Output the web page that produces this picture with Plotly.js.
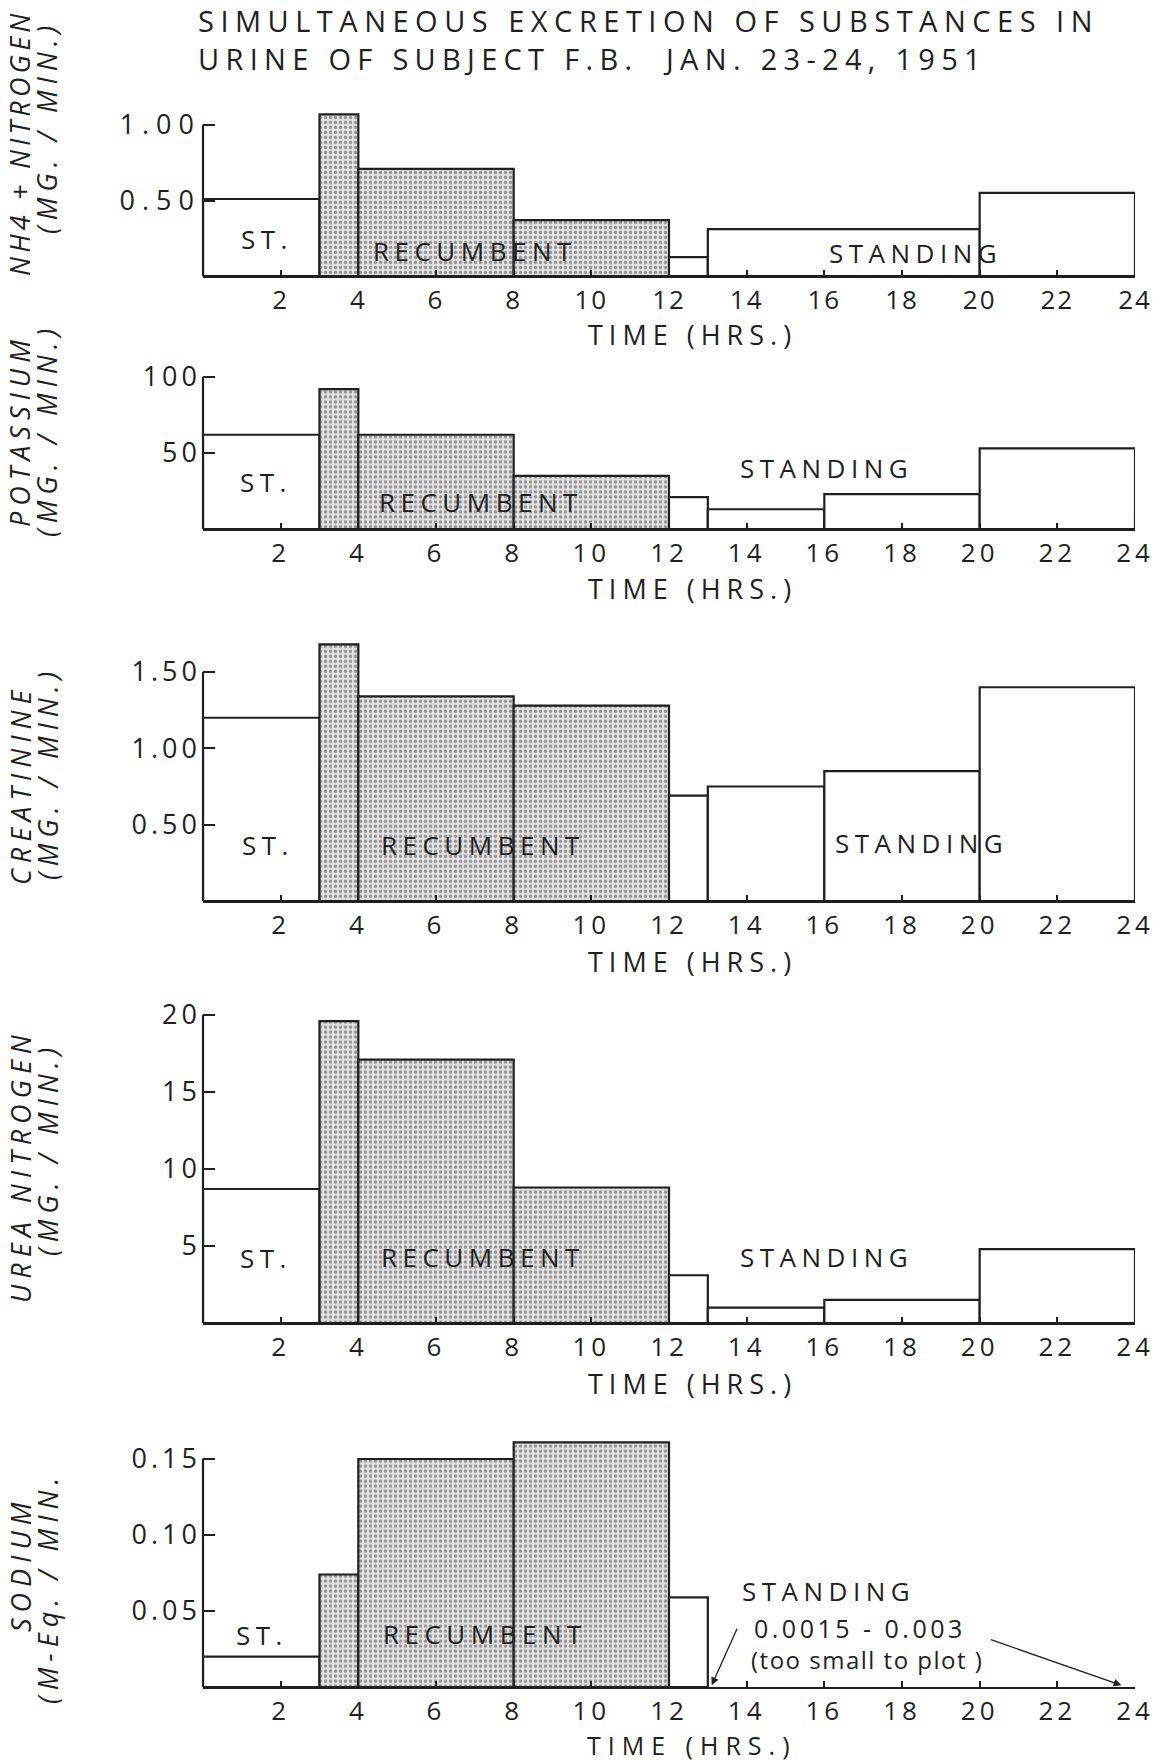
<!DOCTYPE html>
<html><head><meta charset="utf-8">
<script src="https://cdn.plot.ly/plotly-3.0.1.min.js"></script>
<style>
html,body{margin:0;padding:0;background:#fff;}
svg text{letter-spacing:4px;}
g.ytick text{letter-spacing:7px;}
g.xtick text{letter-spacing:2px;}
</style></head>
<body><div id="chart" style="width:1159px;height:1762px;"></div>
<script>
// ---------- data ----------
const intervalStart = [0, 3, 4, 8, 12, 13, 16, 20];
const intervalEnd   = [3, 4, 8, 12, 13, 16, 20, 24];
const nitrogenStart = [0, 3, 4, 8, 12, 13, 20];
const nitrogenEnd   = [3, 4, 8, 12, 13, 20, 24];
const sodiumStart   = [0, 3, 4, 8, 12];
const sodiumEnd     = [3, 4, 8, 12, 13];

const nitrogen     = [0.51, 1.07, 0.71, 0.37, 0.125, 0.31, 0.55];
const potassium    = [62, 92, 62, 35, 21, 13, 23, 53];
const creatinine   = [1.20, 1.68, 1.34, 1.28, 0.69, 0.75, 0.85, 1.40];
const ureaNitrogen = [8.7, 19.6, 17.1, 8.8, 3.1, 1.0, 1.5, 4.8];
const sodium       = [0.020, 0.074, 0.150, 0.161, 0.059];

const recumbentFrom = 3, recumbentTo = 12;

const xTickVals = [2, 4, 6, 8, 10, 12, 14, 16, 18, 20, 22, 24];
const xTickText = ['2', '4', '6', '8', '10', '12', '14', '16', '18', '20', '22', '24'];

const nitrogenTicks = [0.5, 1.0];          const nitrogenTickText = ['0.50', '1.00'];
const potassiumTicks = [50, 100];          const potassiumTickText = ['50', '100'];
const creatinineTicks = [0.5, 1.0, 1.5];   const creatinineTickText = ['0.50', '1.00', '1.50'];
const ureaTicks = [5, 10, 15, 20];         const ureaTickText = ['5', '10', '15', '20'];
const sodiumTicks = [0.05, 0.10, 0.15];    const sodiumTickText = ['0.05', '0.10', '0.15'];

const titleLine1 = 'SIMULTANEOUS EXCRETION OF SUBSTANCES IN';
const titleLine2 = 'URINE OF SUBJECT F.B.\u00a0 JAN. 23-24, 1951';
const xTitle = 'TIME (HRS.)';
const sodiumNote1 = '0.0015 - 0.003';
const sodiumNote2 = '(too small to plot )';

// ---------- layout helpers ----------
const W = 1159, H = 1762;
const INK = '#1f1f1f';
const FONT = 'Open Sans, DejaVu Sans, sans-serif';
const xLeftPx = 203, xRightPx = 1135;
const pyf = p => 1 - p / H;
const ls = (t, px) => '<span style="letter-spacing:' + px + 'px">' + t + '</span>';

const panels = [
  {starts: nitrogenStart, ends: nitrogenEnd, vals: nitrogen, tv: nitrogenTicks, tt: nitrogenTickText,
   zeroPx: 276, ppu: 151, top: 1.1, xtY: 335, xtSize: 27,
   yt1: 'NH4 + NITROGEN', yt1y: 143, yt1s: 4.2, yt2: '(MG. / MIN.)', yt2y: 127,
   labels: [['ST.', 1.65, 0.245], ['RECUMBENT', 7.0, 0.165], ['STANDING', 18.35, 0.152]]},
  {starts: intervalStart, ends: intervalEnd, vals: potassium, tv: potassiumTicks, tt: potassiumTickText,
   zeroPx: 529, ppu: 1.52, top: 105, xtY: 589, xtSize: 27,
   yt1: 'POTASSIUM', yt1y: 431, yt1s: 6, yt2: '(MG. / MIN.)', yt2y: 430,
   labels: [['ST.', 1.62, 31], ['RECUMBENT', 7.15, 17.5], ['STANDING', 16.05, 40]]},
  {starts: intervalStart, ends: intervalEnd, vals: creatinine, tv: creatinineTicks, tt: creatinineTickText,
   zeroPx: 901, ppu: 152.7, top: 1.75, xtY: 961, xtSize: 27,
   yt1: 'CREATININE', yt1y: 785, yt1s: 6, yt2: '(MG. / MIN.)', yt2y: 773,
   labels: [['ST.', 1.67, 0.37], ['RECUMBENT', 7.2, 0.37], ['STANDING', 18.5, 0.38]]},
  {starts: intervalStart, ends: intervalEnd, vals: ureaNitrogen, tv: ureaTicks, tt: ureaTickText,
   zeroPx: 1323, ppu: 15.4, top: 21, xtY: 1383, xtSize: 27,
   yt1: 'UREA NITROGEN', yt1y: 1166, yt1s: 6, yt2: '(MG. / MIN.)', yt2y: 1149,
   labels: [['ST.', 1.62, 4.2], ['RECUMBENT', 7.22, 4.3], ['STANDING', 16.05, 4.3]]},
  {starts: sodiumStart, ends: sodiumEnd, vals: sodium, tv: sodiumTicks, tt: sodiumTickText,
   zeroPx: 1687, ppu: 1520, top: 0.17, xtY: 1745, xtSize: 25,
   yt1: 'SODIUM', yt1y: 1565, yt1s: 6, yt2: '(M-Eq. / MIN.', yt2y: 1588,
   labels: [['ST.', 1.52, 0.034], ['RECUMBENT', 7.27, 0.035], ['STANDING', 16.1, 0.063]]}
];

const data = [];
const layout = {
  width: W, height: H,
  margin: {l: 0, r: 0, t: 0, b: 0},
  paper_bgcolor: '#ffffff', plot_bgcolor: '#ffffff',
  showlegend: false,
  font: {family: FONT, color: INK},
  title: {text: ls(titleLine1, 6.5) + '<br>' + ls(titleLine2, 6.3),
          x: 198 / W, xanchor: 'left', xref: 'paper',
          y: pyf(32), yanchor: 'middle', yref: 'container',
          font: {family: FONT, size: 29, color: INK}},
  annotations: [], shapes: []
};

panels.forEach((p, i) => {
  const s = i === 0 ? '' : String(i + 1);
  const isRec = p.starts.map((a, k) => a >= recumbentFrom && p.ends[k] <= recumbentTo);
  data.push({
    type: 'bar',
    xaxis: 'x' + s, yaxis: 'y' + s,
    x: p.starts.map((a, k) => (a + p.ends[k]) / 2),
    width: p.starts.map((a, k) => p.ends[k] - a),
    y: p.vals,
    marker: {
      color: isRec.map(r => r ? '#e2e2e2' : '#ffffff'),
      line: {color: INK, width: 2.2},
      pattern: {shape: isRec.map(r => r ? '.' : ''), fgcolor: '#8a8a8a',
                size: 5, solidity: 0.35, fillmode: 'overlay'}
    },
    hoverinfo: 'skip'
  });
  const dom = [pyf(p.zeroPx), pyf(p.zeroPx - p.top * p.ppu)];
  layout['xaxis' + s] = {
    domain: [xLeftPx / W, xRightPx / W], range: [0, 24], anchor: 'y' + s,
    tickmode: 'array', tickvals: xTickVals, ticktext: xTickText,
    ticks: 'inside', ticklen: 6, tickwidth: 2, tickcolor: INK,
    showline: true, linewidth: 2.2, linecolor: INK,
    showgrid: false, zeroline: false, ticklabelstandoff: 0,
    tickfont: {family: FONT, size: 26, color: INK}, fixedrange: true
  };
  layout['yaxis' + s] = {
    domain: dom, range: [0, p.top], anchor: 'x' + s,
    tickmode: 'array', tickvals: p.tv, ticktext: p.tt,
    ticks: 'inside', ticklen: 12, tickwidth: 2, tickcolor: INK,
    showline: false, showgrid: false, zeroline: false, ticklabelstandoff: 1,
    tickfont: {family: FONT, size: 27, color: INK}, fixedrange: true
  };
  layout.shapes.push({type: 'line', xref: 'x' + s + ' domain', yref: 'y' + s,
    x0: 0, x1: 0, y0: 0, y1: p.tv[p.tv.length - 1], line: {color: INK, width: 2.2}});
  // x title
  layout.annotations.push({text: ls(xTitle, p.xtSize === 27 ? 6 : 7), xref: 'paper', yref: 'paper',
    x: 692 / W, y: pyf(p.xtY), xanchor: 'center', yanchor: 'middle', showarrow: false,
    font: {family: FONT, size: p.xtSize, color: INK}});
  // y titles (two rotated lines)
  layout.annotations.push({text: ls(p.yt1, p.yt1s), xref: 'paper', yref: 'paper', textangle: -90,
    x: 20 / W, y: pyf(p.yt1y), xanchor: 'center', yanchor: 'middle', showarrow: false,
    font: {family: FONT, size: 27, style: 'italic', color: INK}});
  layout.annotations.push({text: ls(p.yt2, 6), xref: 'paper', yref: 'paper', textangle: -90,
    x: 47 / W, y: pyf(p.yt2y), xanchor: 'center', yanchor: 'middle', showarrow: false,
    font: {family: FONT, size: 27, style: 'italic', color: INK}});
  // phase labels
  p.labels.forEach(l => layout.annotations.push({text: ls(l[0], 5.5), xref: 'x' + s, yref: 'y' + s,
    x: l[1], y: l[2], xanchor: 'center', yanchor: 'middle', showarrow: false,
    font: {family: FONT, size: 26, color: INK}}));
});

// sodium note + arrows
layout.annotations.push({text: ls(sodiumNote1, 3.5), xref: 'x5', yref: 'y5',
  x: 16.92, y: 0.0388, showarrow: false, font: {family: FONT, size: 25, color: INK}});
layout.annotations.push({text: ls(sodiumNote2, 1.5), xref: 'x5', yref: 'y5',
  x: 17.1, y: 0.0184, showarrow: false, font: {family: FONT, size: 24, color: INK}});
layout.annotations.push({text: '', xref: 'x5', yref: 'y5', x: 13.1, y: 0.0012,
  showarrow: true, ax: 26, ay: -58, arrowhead: 2, arrowsize: 1.2, arrowwidth: 1.3, arrowcolor: INK});
layout.annotations.push({text: '', xref: 'x5', yref: 'y5', x: 23.65, y: 0.0012,
  showarrow: true, ax: -132, ay: -46, arrowhead: 2, arrowsize: 1.2, arrowwidth: 1.3, arrowcolor: INK});

Plotly.newPlot('chart', data, layout, {staticPlot: true, displayModeBar: false});
</script>
</body></html>
